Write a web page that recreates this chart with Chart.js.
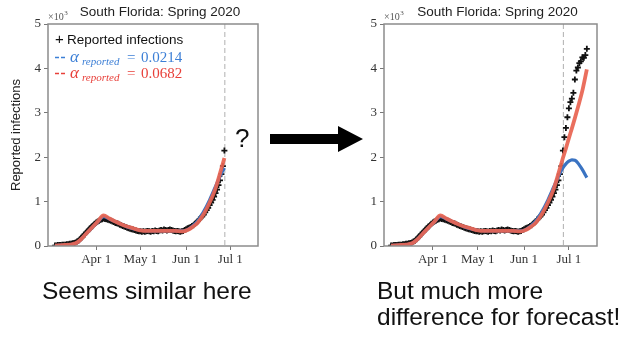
<!DOCTYPE html>
<html>
<head>
<meta charset="utf-8">
<script src="https://cdn.jsdelivr.net/npm/chart.js@4.4.1/dist/chart.umd.min.js"></script>
<style>
  html, body { margin: 0; padding: 0; background: #fff; }
  body { width: 624px; height: 337px; position: relative; overflow: hidden;
         font-family: "Liberation Sans", Arial, sans-serif; color: #111; }
  canvas { position: absolute; top: 0; }
  #left { left: 0; }
  #right { left: 340px; }
  svg { position: absolute; left: 0; top: 0; }
  .caption { position: absolute; font-size: 24.5px; line-height: 26px; white-space: nowrap; }
  #qmark { position: absolute; left: 235px; top: 125px; font-size: 26px; line-height: 26px; }
</style>
</head>
<body>
<canvas id="left" width="270" height="275"></canvas>
<canvas id="right" width="280" height="275"></canvas>
<svg width="624" height="337">
  <polygon points="270,134 338,134 338,126 363,139 338,152 338,144 270,144" fill="#000"/>
</svg>
<div id="qmark">?</div>
<div class="caption" style="left:42px; top:278px;">Seems similar here</div>
<div class="caption" style="left:377px; top:278px;">But much more<br>difference for forecast!</div>
<script>
// x values are days since Mar 1 2020; y values in thousands (axis shows x10^3)
const tickDays = [31, 61, 92, 122];
const tickNames = ['Apr 1', 'May 1', 'Jun 1', 'Jul 1'];
const yTicks = [0, 1, 2, 3, 4, 5];
const cutoffDay = 118.3;

// reported infections, one value per day starting at day 3
const firstReportDay = 3;
const reported = [
  0.01, 0.01, 0.02, 0.02, 0.02, 0.03, 0.03, 0.03, 0.04, 0.04,
  0.05, 0.05, 0.06, 0.07, 0.08, 0.10, 0.12, 0.15, 0.19, 0.22,
  0.26, 0.30, 0.33, 0.37, 0.40, 0.44, 0.47, 0.50, 0.53, 0.55,
  0.57, 0.59, 0.60, 0.62, 0.61, 0.60, 0.59, 0.58, 0.57, 0.55,
  0.54, 0.52, 0.51, 0.50, 0.48, 0.47, 0.45, 0.44, 0.43, 0.41,
  0.40, 0.39, 0.38, 0.37, 0.36, 0.35, 0.34, 0.33, 0.33, 0.32,
  0.33, 0.32, 0.33, 0.34, 0.33, 0.32, 0.34, 0.33, 0.35, 0.34,
  0.33, 0.35, 0.36, 0.35, 0.37, 0.36, 0.35, 0.36, 0.37, 0.36,
  0.35, 0.34, 0.33, 0.34, 0.33, 0.32, 0.33, 0.34, 0.36, 0.38,
  0.40, 0.41, 0.43, 0.45, 0.47, 0.50, 0.53, 0.56, 0.60, 0.64,
  0.67, 0.71, 0.76, 0.81, 0.86, 0.92, 0.98, 1.04, 1.11, 1.19,
  1.27, 1.37, 1.48, 1.62, 1.80, 2.15, 2.45, 2.66, 2.90, 3.10,
  3.24, 3.32, 3.45, 3.75, 3.95, 4.02, 4.12, 4.16, 4.25, 4.24,
  4.30, 4.44
];

// model fits
const modelDays = [3, 8, 13, 17, 20, 24, 28, 32, 36, 40, 44, 48, 52, 56, 60, 66, 72, 78, 84, 90,
  93, 96, 100, 104, 108, 112, 116, 118, 120, 122, 124, 126, 128, 131, 134];
const fitLow = [0.01, 0.02, 0.03, 0.06, 0.13, 0.27, 0.41, 0.54, 0.66, 0.61, 0.55, 0.49, 0.43, 0.39, 0.36, 0.34, 0.34, 0.34, 0.34, 0.34,
  0.37, 0.44, 0.57, 0.78, 1.04, 1.34, 1.64, 1.76, 1.85, 1.91, 1.94, 1.93, 1.87, 1.72, 1.54];
const fitHigh = [0.01, 0.02, 0.03, 0.06, 0.13, 0.27, 0.41, 0.55, 0.69, 0.62, 0.55, 0.49, 0.44, 0.40, 0.36, 0.34, 0.34, 0.34, 0.34, 0.33,
  0.36, 0.42, 0.53, 0.72, 0.98, 1.30, 1.75, 1.98, 2.20, 2.43, 2.65, 2.88, 3.12, 3.50, 3.98];
const alphaValues = ['0.0214', '0.0682'];

const BLUE = '#3a73c2';
const RED = 'rgba(232, 100, 82, 0.93)';
const BLUE_TEXT = '#3c7fd6';
const RED_TEXT = '#e8403a';
const TICK_FONT = { family: '"Liberation Serif", "Times New Roman", serif', size: 13 };

const decorPlugin = {
  id: 'decor',
  beforeDatasetsDraw(chart) {
    const { ctx, chartArea: a, scales } = chart;
    const x = scales.x.getPixelForValue(cutoffDay);
    ctx.save();
    ctx.strokeStyle = '#b0b0b0';
    ctx.lineWidth = 1;
    ctx.setLineDash([5, 3]);
    ctx.beginPath();
    ctx.moveTo(x, a.top);
    ctx.lineTo(x, a.bottom);
    ctx.stroke();
    ctx.restore();
  },
  afterDraw(chart) {
    const { ctx, chartArea: a } = chart;
    const opts = chart.options.plugins.decor;
    ctx.save();
    // frame
    ctx.strokeStyle = '#8c8c8c';
    ctx.lineWidth = 1.5;
    ctx.strokeRect(a.left, a.top, a.right - a.left, a.bottom - a.top);

    // title
    ctx.fillStyle = '#222';
    ctx.font = '13.5px "Liberation Sans", Arial, sans-serif';
    ctx.textAlign = 'center';
    ctx.textBaseline = 'alphabetic';
    ctx.fillText('South Florida: Spring 2020', (a.left + a.right) / 2 + 7, 16);

    // x10^3 offset label
    ctx.textAlign = 'left';
    ctx.fillStyle = '#555';
    ctx.font = '10px "Liberation Serif", serif';
    ctx.fillText('\u00d710', a.left, 20);
    const w = ctx.measureText('\u00d710').width;
    ctx.font = '7px "Liberation Serif", serif';
    ctx.fillText('3', a.left + w + 0.5, 15);

    if (opts.legend) {
      const lx = a.left + 8;
      ctx.fillStyle = '#111';
      ctx.font = '15px "Liberation Sans", Arial, sans-serif';
      ctx.fillText('+', lx - 1, 44);
      ctx.font = '13.5px "Liberation Sans", Arial, sans-serif';
      ctx.fillText('Reported infections', lx + 11, 44);
      [[BLUE_TEXT, alphaValues[0], 62], [RED_TEXT, alphaValues[1], 78]].forEach(([col, val, base]) => {
        ctx.fillStyle = col;
        ctx.strokeStyle = col;
        ctx.lineWidth = 1.4;
        ctx.beginPath();
        ctx.moveTo(lx - 1, base - 4.5); ctx.lineTo(lx + 3, base - 4.5);
        ctx.moveTo(lx + 5, base - 4.5); ctx.lineTo(lx + 9, base - 4.5);
        ctx.stroke();
        ctx.font = 'italic 17px "Liberation Serif", serif';
        ctx.fillText('\u03b1', lx + 14, base);
        ctx.font = 'italic 11px "Liberation Serif", serif';
        ctx.fillText('reported', lx + 26, base + 3);
        ctx.font = '15px "Liberation Serif", serif';
        ctx.fillText('=', lx + 71, base);
        ctx.fillText(val, lx + 85, base);
      });
    }
    ctx.restore();
  }
};

function makeChart(id, lastDay, cfg) {
  const pts = reported
    .map((v, i) => ({ x: firstReportDay + i, y: v }))
    .filter(p => p.x <= lastDay);
  const line = vals => modelDays
    .map((d, i) => ({ x: d, y: vals[i] }))
    .filter(p => p.x <= lastDay);

  return new Chart(document.getElementById(id), {
    type: 'scatter',
    data: {
      datasets: [
        { label: 'alpha ' + alphaValues[1], data: line(fitHigh), showLine: true, borderColor: RED,
          borderWidth: 3.8, pointRadius: 0, cubicInterpolationMode: 'monotone' },
        { label: 'alpha ' + alphaValues[0], data: line(fitLow), showLine: true, borderColor: BLUE,
          borderWidth: 3.2, pointRadius: 0, cubicInterpolationMode: 'monotone' },
        { label: 'Reported infections', data: pts, pointStyle: 'cross', pointRadius: 3,
          borderColor: '#111', backgroundColor: '#111', pointBorderWidth: 1.8 }
      ]
    },
    options: {
      responsive: false,
      animation: false,
      devicePixelRatio: 1,
      layout: { padding: { top: 24, right: cfg.padRight, left: 0, bottom: 0 } },
      plugins: {
        legend: { display: false },
        tooltip: { enabled: false },
        decor: { legend: cfg.legend }
      },
      scales: {
        x: {
          type: 'linear', min: -1.7, max: 140.8,
          afterBuildTicks: s => { s.ticks = tickDays.map(v => ({ value: v })); },
          afterFit: s => { s.height = 29; },
          ticks: { callback: (v, i) => tickNames[i], font: TICK_FONT, color: '#333',
                   padding: 2, maxRotation: 0, autoSkip: false },
          grid: { drawOnChartArea: false, tickLength: 4, tickColor: '#777' },
          border: { display: false }
        },
        y: {
          min: 0, max: 5,
          afterBuildTicks: s => { s.ticks = yTicks.map(v => ({ value: v })); },
          afterFit: s => { s.width = cfg.yWidth; },
          ticks: { font: TICK_FONT, color: '#333', padding: 3 },
          grid: { drawOnChartArea: false, tickLength: 4, tickColor: '#777' },
          border: { display: false },
          title: { display: cfg.yTitle, text: 'Reported infections', color: '#222',
                   font: { family: '"Liberation Sans", Arial, sans-serif', size: 13 },
                   padding: { top: 9, bottom: 0 } }
        }
      }
    },
    plugins: [decorPlugin]
  });
}

makeChart('left', cutoffDay, { yWidth: 48, padRight: 12, legend: true, yTitle: true });
makeChart('right', 200, { yWidth: 44, padRight: 23, legend: false, yTitle: false });
</script>
</body>
</html>
